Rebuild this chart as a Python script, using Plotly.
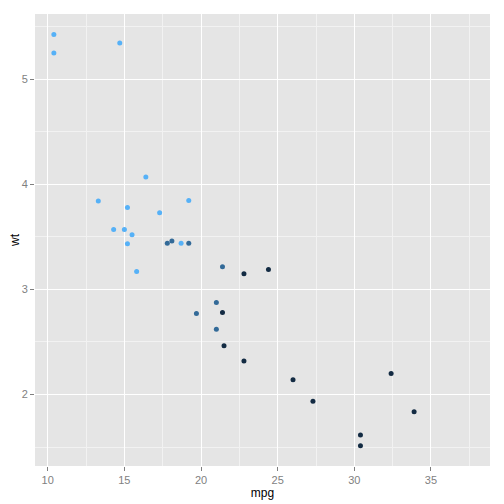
import plotly.graph_objects as go

mpg = [21.0, 21.0, 22.8, 21.4, 18.7, 18.1, 14.3, 24.4, 22.8, 19.2, 17.8, 16.4, 17.3, 15.2,
       10.4, 10.4, 14.7, 32.4, 30.4, 33.9, 21.5, 15.5, 15.2, 13.3, 19.2, 27.3, 26.0, 30.4,
       15.8, 19.7, 15.0, 21.4]
wt = [2.620, 2.875, 2.320, 3.215, 3.440, 3.460, 3.570, 3.190, 3.150, 3.440, 3.440, 4.070,
      3.730, 3.780, 5.250, 5.424, 5.345, 2.200, 1.615, 1.835, 2.465, 3.520, 3.435, 3.840,
      3.845, 1.935, 2.140, 1.513, 3.170, 2.770, 3.570, 2.780]
cyl = [6, 6, 4, 6, 8, 6, 8, 4, 4, 6, 6, 8, 8, 8, 8, 8, 8, 4, 4, 4, 4, 8, 8, 8, 8, 4, 4, 4,
       8, 6, 8, 4]

fig = go.Figure(go.Scatter(
    x=mpg, y=wt, mode="markers",
    marker=dict(size=5, color=cyl, cmin=4, cmax=8,
                colorscale=[[0, "#132B43"], [0.5, "#336A98"], [1, "#56B1F7"]],
                showscale=False, line=dict(width=0)),
    hoverinfo="x+y"))

font = "Liberation Sans, Arial, Helvetica, sans-serif"
# page body has an 8px margin, so the figure is 496 wide and starts at (8, 8)
fig.update_layout(
    width=496, height=496,
    margin=dict(l=27, r=14, t=6, b=38),
    paper_bgcolor="white", plot_bgcolor="#E5E5E5",
    font=dict(family=font, size=12, color="black"),
    showlegend=False,
)
fig.update_xaxes(
    range=[9.17, 38.85], tickvals=[10, 15, 20, 25, 30, 35], automargin=False,
    showgrid=True, gridcolor="white", gridwidth=1.2, zeroline=False, showline=False,
    ticks="outside", ticklen=4, tickcolor="#7F7F7F", tickwidth=1,
    tickfont=dict(size=11, color="#7F7F7F"),
    minor=dict(tickvals=[12.5, 17.5, 22.5, 27.5, 32.5, 37.5], showgrid=True,
               gridcolor="#F2F2F2", gridwidth=0.6, ticks=""),
    title=dict(text="mpg", font=dict(size=12, color="black"), standoff=2),
)
fig.update_yaxes(
    range=[1.32, 5.62], tickvals=[2, 3, 4, 5], automargin=False,
    showgrid=True, gridcolor="white", gridwidth=1.2, zeroline=False, showline=False,
    ticks="outside", ticklen=4, tickcolor="#7F7F7F", tickwidth=1,
    tickfont=dict(size=11, color="#7F7F7F"),
    minor=dict(tickvals=[1.5, 2.5, 3.5, 4.5, 5.5], showgrid=True,
               gridcolor="#F2F2F2", gridwidth=0.6, ticks=""),
    title=dict(text="wt", font=dict(size=12, color="black"), standoff=2),
)
fig.write_html("out.html")
